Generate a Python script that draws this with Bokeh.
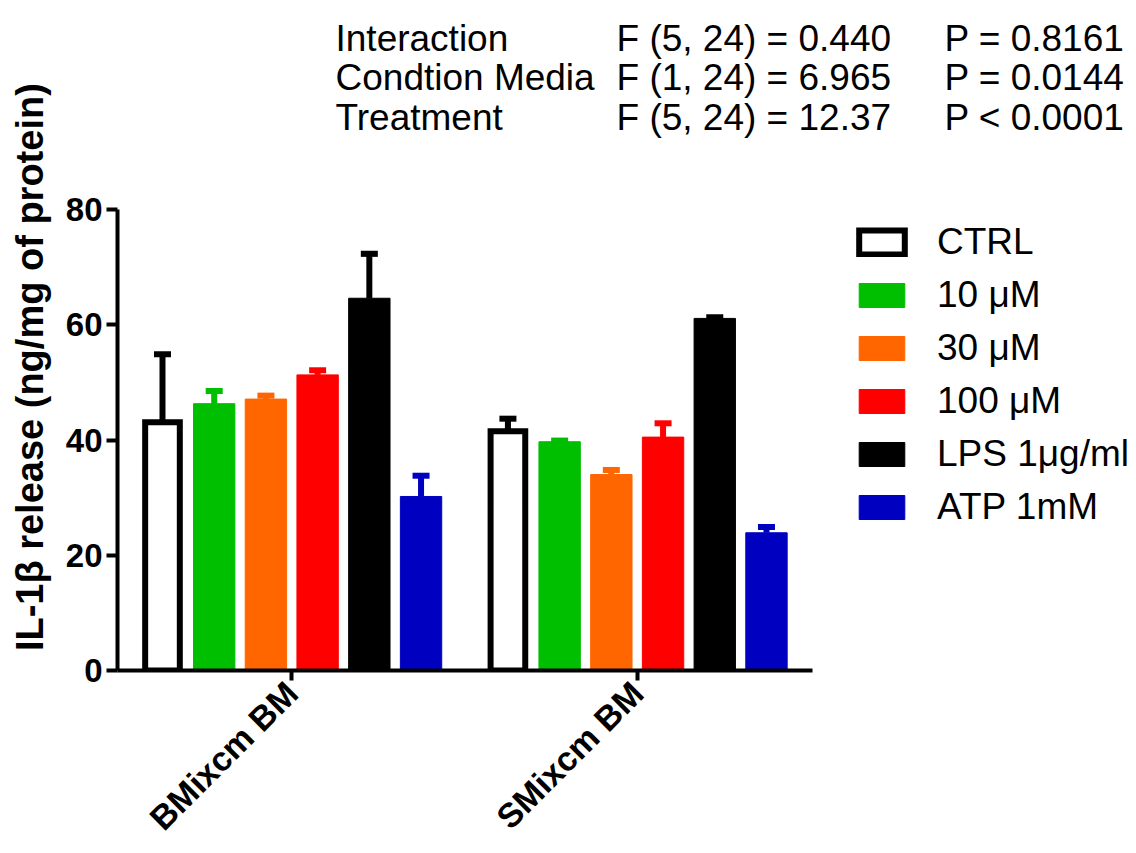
import math

from bokeh.core.properties import value
from bokeh.embed import file_html
from bokeh.models import (ColumnDataSource, FixedTicker, Legend, LegendItem,
                          Range1d, TeeHead, Whisker)
from bokeh.plotting import figure
from bokeh.resources import INLINE

# --- data -------------------------------------------------------------------
groups = ["BMixcm BM", "SMixcm BM"]
treatments = ["CTRL", "10 \u03bcM", "30 \u03bcM", "100 \u03bcM", "LPS 1\u03bcg/ml", "ATP 1mM"]
colors = ["#FFFFFF", "#00BF00", "#FF6600", "#FF0000", "#000000", "#0000C0"]

mean_bmix = [43.1, 46.3, 47.1, 51.3, 64.6, 30.2]
sem_bmix = [11.8, 2.2, 0.6, 0.8, 7.7, 3.6]
mean_smix = [41.5, 39.7, 34.0, 40.5, 61.1, 23.9]
sem_smix = [2.2, 0.2, 0.8, 2.4, 0.2, 1.0]

y_ticks = [0, 20, 40, 60, 80]
y_max = 80

stats_effect = ["Interaction", "Condtion Media", "Treatment"]
stats_f = ["F (5, 24) = 0.440", "F (1, 24) = 6.965", "F (5, 24) = 12.37"]
stats_p = ["P = 0.8161", "P = 0.0144", "P < 0.0001"]

FONT = "Liberation Sans"

# --- geometry ---------------------------------------------------------------
W, H = 1136, 853
LEFT, BOTTOM = 117, 183            # canvas borders around the drawing area
AXIS_PX_X = 695                    # length of the drawn x axis
AXIS_PX_Y = 461                    # length of the drawn y axis
x_lo, x_hi = -0.87, 12.57          # data extent covered by the x axis

frame_w = W - LEFT
frame_h = H - BOTTOM
px_per_x = AXIS_PX_X / (x_hi - x_lo)
px_per_y = AXIS_PX_Y / y_max

group_step = len(treatments) + 0.68          # extra gap between the two groups
group_centers = [g * group_step + (len(treatments) - 1) / 2 for g in range(len(groups))]

p = figure(
    width=W, height=H,
    x_range=Range1d(x_lo, x_lo + frame_w / px_per_x),
    y_range=Range1d(0, frame_h / px_per_y),
    output_backend="svg", toolbar_location=None,
    min_border_left=LEFT, min_border_right=0,
    min_border_top=0, min_border_bottom=BOTTOM,
)
p.outline_line_color = None
p.grid.visible = False

legend_items = []
for i, (name, col) in enumerate(zip(treatments, colors)):
    xs = [g * group_step + i for g in range(len(groups))]
    means = [mean_bmix[i], mean_smix[i]]
    sems = [sem_bmix[i], sem_smix[i]]
    src = ColumnDataSource(dict(
        x=xs, top=means,
        upper=[m + s for m, s in zip(means, sems)],
    ))
    edge = "#000000"
    if name == "CTRL":
        r = p.vbar(x="x", top="top", bottom=0, width=0.67, source=src,
                   fill_color=col, line_color="black", line_width=6,
                   line_join="miter")
    else:
        r = p.vbar(x="x", top="top", bottom=0, width=0.8, source=src,
                   fill_color=col, line_color=col, line_width=1)
        edge = col
    w = Whisker(base="x", lower="top", upper="upper", source=src,
                dimension="height", line_color=edge, line_width=6,
                lower_head=None,
                upper_head=TeeHead(size=17, line_width=6, line_color=edge))
    p.add_layout(w)
    legend_items.append(LegendItem(label=name, renderers=[r]))

legend = Legend(
    items=legend_items, location=(AXIS_PX_X + 41, 142),
    glyph_width=57, glyph_height=30, label_standoff=27, spacing=11,
    padding=0, margin=0,
    label_text_font=FONT, label_text_font_size="37px", label_text_color="black",
    border_line_color=None, background_fill_alpha=0,
)
p.add_layout(legend, "center")

# --- axes -------------------------------------------------------------------
for ax in (p.xaxis[0], p.yaxis[0]):
    ax.axis_line_width = 4
    ax.axis_line_color = "black"
    ax.major_tick_line_width = 4
    ax.major_tick_line_color = "black"
    ax.minor_tick_line_color = None
    ax.major_tick_in = 0
    ax.major_label_text_font = FONT
    ax.major_label_text_font_style = "bold"
    ax.major_label_text_color = "black"

p.yaxis.bounds = (0, y_max)
p.yaxis.ticker = FixedTicker(ticks=y_ticks)
p.yaxis.major_tick_out = 11
p.yaxis.major_label_standoff = 4
p.yaxis.major_label_text_font_size = "33px"
# trailing no-break spaces nudge the centred title down beside the axis
p.yaxis.axis_label = "IL-1\u03b2 release (ng/mg of protein)" + "\u00a0" * 6
p.yaxis.axis_label_text_font = FONT
p.yaxis.axis_label_text_font_style = "bold"
p.yaxis.axis_label_text_font_size = "38px"
p.yaxis.axis_label_text_color = "black"
p.yaxis.axis_label_standoff = 12

p.xaxis.bounds = (x_lo, x_hi)
p.xaxis.ticker = FixedTicker(ticks=group_centers)
p.xaxis.major_label_overrides = {c: g for c, g in zip(group_centers, groups)}
p.xaxis.major_tick_out = 10
p.xaxis.major_label_standoff = 7
p.xaxis.major_label_text_font_size = "34px"
p.xaxis.major_label_orientation = math.pi / 4

# --- two-way ANOVA summary above the bars -----------------------------------
row_base_px = [38, 77, 117]        # baselines, from the top of the page
col_left_px = [335, 616, 944]      # left edges of the three columns


def to_x(px):
    return x_lo + (px - LEFT) / px_per_x


def to_y(py):
    return (frame_h - py) / px_per_y


hx, hy, ht = [], [], []
for k in range(3):
    for cx, txt in zip(col_left_px, (stats_effect[k], stats_f[k], stats_p[k])):
        hx.append(to_x(cx))
        hy.append(to_y(row_base_px[k]))
        ht.append(txt)
p.text(x=hx, y=hy, text=ht, text_font=value(FONT), text_font_size="37px",
       text_color="black", text_baseline="alphabetic", text_align="left")

open("out.html", "w").write(file_html(p, INLINE))
